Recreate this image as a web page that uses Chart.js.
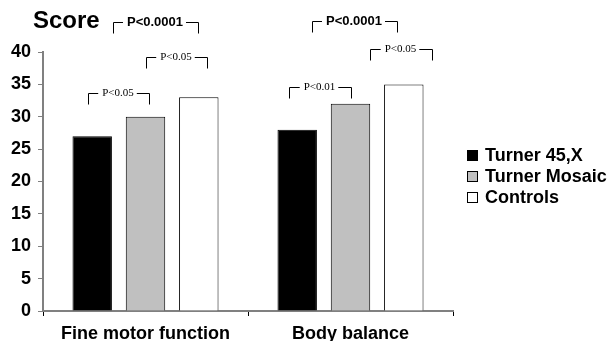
<!DOCTYPE html>
<html>
<head>
    <meta charset="UTF-8">
    <title>Score</title>
    <script src="https://cdn.jsdelivr.net/npm/chart.js"></script>
    <style>
        html, body { margin: 0; padding: 0; background: #fff; }
        #wrap { width: 613px; height: 341px; position: relative; }
    </style>
</head>
<body>
    <div id="wrap"><canvas id="chart" width="613" height="341"></canvas></div>
    <script>
        const categories = ['Fine motor function', 'Body balance'];
        const seriesNames = ['Turner 45,X', 'Turner Mosaic', 'Controls'];
        const turner45x = [27, 28];
        const turnerMosaic = [30, 32];
        const controls = [33, 35];
        const yTicks = [0, 5, 10, 15, 20, 25, 30, 35, 40];

        // significance brackets: category index, left/right offsets from category centre (px), top value
        const brackets = [
            { cat: 0, x0: -33, x1: 52, top: 44.6, text: 'P<0.0001', bold: true },
            { cat: 0, x0: 0, x1: 61, top: 39.3, text: 'P<0.05', bold: false },
            { cat: 0, x0: -58, x1: 3, top: 33.7, text: 'P<0.05', bold: false },
            { cat: 1, x0: -39, x1: 46, top: 44.8, text: 'P<0.0001', bold: true },
            { cat: 1, x0: 19, x1: 81, top: 40.5, text: 'P<0.05', bold: false },
            { cat: 1, x0: -62, x1: 0, top: 34.6, text: 'P<0.01', bold: false }
        ];

        const SANS = '"Liberation Sans", Arial, Helvetica, sans-serif';
        const SERIF = '"Liberation Serif", "Times New Roman", serif';
        const AXIS = '#808080';

        const extras = {
            id: 'extras',
            afterDraw(chart) {
                const ctx = chart.ctx;
                const x = chart.scales.x;
                const y = chart.scales.y;
                ctx.save();

                // title
                ctx.fillStyle = '#000';
                ctx.font = 'bold 24px ' + SANS;
                ctx.textBaseline = 'alphabetic';
                ctx.textAlign = 'left';
                ctx.fillText('Score', 33, 28);

                // brackets
                brackets.forEach(b => {
                    const c = x.getPixelForValue(b.cat);
                    const l = Math.round(c + b.x0) + 0.5;
                    const r = Math.round(c + b.x1) + 0.5;
                    const t = Math.round(y.getPixelForValue(b.top)) + 0.5;
                    const mid = (l + r) / 2;
                    ctx.font = (b.bold ? 'bold 13px ' + SANS : '11px ' + SERIF);
                    const w = ctx.measureText(b.text).width;
                    ctx.strokeStyle = '#000';
                    ctx.lineWidth = 1;
                    ctx.beginPath();
                    ctx.moveTo(l, t + 11);
                    ctx.lineTo(l, t);
                    ctx.lineTo(mid - w / 2 - 5, t);
                    ctx.moveTo(mid + w / 2 + 2, t);
                    ctx.lineTo(r, t);
                    ctx.lineTo(r, t + 11);
                    ctx.stroke();
                    ctx.fillStyle = '#000';
                    ctx.textAlign = 'center';
                    ctx.textBaseline = 'middle';
                    ctx.fillText(b.text, mid - 1, t);
                });

                // legend
                ctx.font = 'bold 18px ' + SANS;
                ctx.textAlign = 'left';
                ctx.textBaseline = 'middle';
                chart.data.datasets.forEach((ds, i) => {
                    const cy = 155 + i * 21;
                    ctx.fillStyle = ds.backgroundColor;
                    ctx.fillRect(467, cy - 5, 11, 11);
                    ctx.strokeStyle = '#000';
                    ctx.lineWidth = 1;
                    ctx.strokeRect(467.5, cy - 4.5, 10, 10);
                    ctx.fillStyle = '#000';
                    ctx.fillText(ds.label, 485, cy + 1);
                });
                ctx.restore();
            }
        };

        new Chart(document.getElementById('chart'), {
            type: 'bar',
            data: {
                labels: categories,
                datasets: [
                    { label: seriesNames[0], data: turner45x, backgroundColor: '#000000' },
                    { label: seriesNames[1], data: turnerMosaic, backgroundColor: '#c0c0c0' },
                    { label: seriesNames[2], data: controls, backgroundColor: '#ffffff' }
                ].map(d => Object.assign(d, {
                    borderColor: '#000',
                    borderWidth: 1,
                    borderSkipped: 'bottom',
                    barPercentage: 0.74,
                    categoryPercentage: 0.78
                }))
            },
            options: {
                responsive: false,
                animation: false,
                layout: { padding: { top: 52, right: 160, bottom: 0, left: 0 } },
                plugins: {
                    legend: { display: false },
                    title: { display: false },
                    tooltip: { enabled: false }
                },
                scales: {
                    x: {
                        afterFit: s => { s.height = 30; },
                        border: { color: AXIS, width: 2 },
                        grid: { offset: true, drawOnChartArea: false, drawTicks: true, tickLength: 5, color: '#000' },
                        ticks: {
                            color: '#000',
                            font: { family: SANS, size: 18, weight: 'bold' },
                            padding: 7,
                            maxRotation: 0
                        }
                    },
                    y: {
                        min: 0,
                        max: 40,
                        afterFit: s => { s.width = 43; },
                        afterBuildTicks: s => { s.ticks = yTicks.map(v => ({ value: v })); },
                        border: { color: AXIS, width: 2 },
                        grid: { drawOnChartArea: false, drawTicks: true, tickLength: 5, color: AXIS },
                        ticks: {
                            color: '#000',
                            font: { family: SANS, size: 18, weight: 'bold' },
                            padding: 7
                        }
                    }
                }
            },
            plugins: [extras]
        });
    </script>
</body>
</html>
